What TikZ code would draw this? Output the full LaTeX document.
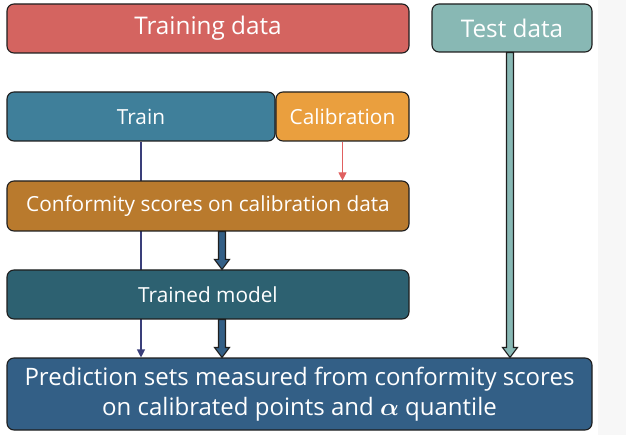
\documentclass[tikz,border=0pt]{standalone}
\usepackage{fontspec}
\setmainfont{Open Sans}
\usetikzlibrary{arrows.meta,calc,backgrounds}
\definecolor{cTrainData}{HTML}{D46460}
\definecolor{cTest}{HTML}{88B8B4}
\definecolor{cTrain}{HTML}{3F7F9A}
\definecolor{cCalib}{HTML}{EA9F3E}
\definecolor{cConf}{HTML}{B97A2D}
\definecolor{cModel}{HTML}{2D6171}
\definecolor{cPred}{HTML}{335F86}
\definecolor{cNavy}{HTML}{3A3F7A}
\definecolor{cRed}{HTML}{E06060}
\definecolor{cEdge}{HTML}{1E1E1E}
\definecolor{cStrip}{HTML}{F7F7F7}
\tikzset{
  box/.style={draw=cEdge, line width=1.1pt, rounded corners=7pt, inner sep=0pt,
    text=white, align=center, font=\fontsize{20.8}{25}\selectfont},
  bigfont/.style={font=\fontsize{24.3}{29}\selectfont},
  predfont/.style={font=\fontsize{24}{30}\selectfont},
  fatline/.style={draw=cEdge, line width=1.1pt, line join=miter},
  thinarrow/.style={line width=1.1pt, -{Triangle[width=8pt,length=8pt]}},
}
\newcommand{\fatarrow}[3]{%
  \path[fatline, fill=#3] let \p1=(#1), \p2=(#2) in
    (\x1-3.5pt,\y1) -- (\x1-3.5pt,\y2+10pt) -- (\x1-7.5pt,\y2+10pt) --
    (\x1,\y2) -- (\x1+7.5pt,\y2+10pt) -- (\x1+3.5pt,\y2+10pt) --
    (\x1+3.5pt,\y1) -- cycle;}
\begin{document}
\begin{tikzpicture}[x=1pt,y=-1pt]
\useasboundingbox (0,0) rectangle (626,435);
\node[box, bigfont, fill=cTrainData, minimum width=402pt, minimum height=49pt] (tdata) at (208,28.5) {Training data};
\node[box, bigfont, fill=cTest, minimum width=160pt, minimum height=48pt] (test) at (512,28) {Test data};
\node[box, fill=cTrain, minimum width=268pt, minimum height=49pt] (train) at (141,116.5) {Train};
\node[box, fill=cCalib, minimum width=133pt, minimum height=49pt] (calib) at (342.5,116.5) {Calibration};
\node[box, fill=cConf, minimum width=402pt, minimum height=50pt] (conf) at (208,206) {Conformity scores on calibration data};
\node[box, fill=cModel, minimum width=402pt, minimum height=49pt] (model) at (208,294.5) {Trained model};
\node[box, predfont, fill=cPred, minimum width=585pt, minimum height=72pt] (pred) at (299.5,394) {Prediction sets measured from conformity scores\\on calibrated points and {\boldmath$\alpha$} quantile};
\begin{scope}[on background layer]
  \fill[cStrip] (598,0) rectangle (626,435);
  \draw[thinarrow, cNavy] (train.south) -- (pred.north -| train.south);
  \draw[thinarrow, cRed, line width=0.9pt] (calib.south) -- (conf.north -| calib.south);
\end{scope}
\fatarrow{$(conf.south)+(14,0)$}{model.north}{cPred}
\fatarrow{$(model.south)+(14,0)$}{pred.north}{cPred}
\fatarrow{$(test.south)+(-2,0)$}{pred.north}{cTest}
\end{tikzpicture}
\end{document}
